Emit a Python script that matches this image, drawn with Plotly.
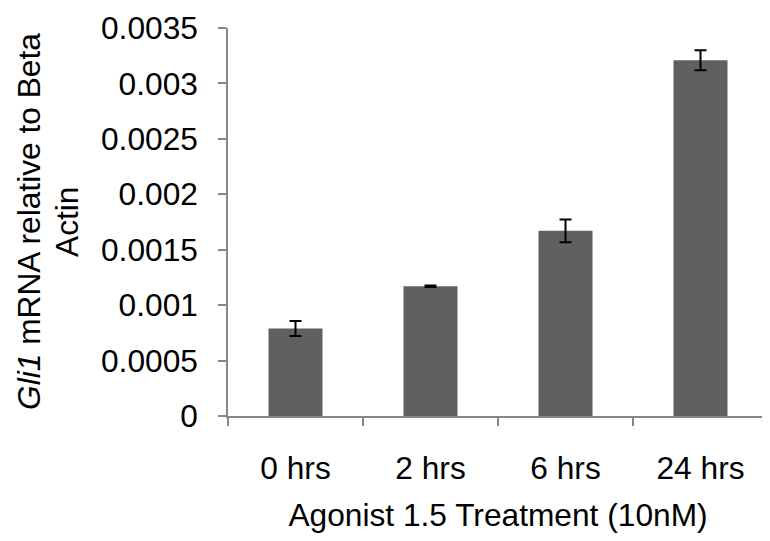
import plotly.graph_objects as go

categories = ["0 hrs", "2 hrs", "6 hrs", "24 hrs"]
values = [0.00079, 0.00117, 0.00167, 0.00321]
errors = [0.000068, 0.000007, 0.000102, 0.00009]
y_ticks = [0, 0.0005, 0.001, 0.0015, 0.002, 0.0025, 0.003, 0.0035]
y_tick_labels = ["0", "0.0005", "0.001", "0.0015", "0.002", "0.0025", "0.003", "0.0035"]
y_title_lines = ["<i>Gli1</i> mRNA relative to Beta", "Actin"]
x_title = "Agonist 1.5 Treatment (10nM)"

FONT = "Liberation Sans, Arial, sans-serif"
AXIS_COLOR = "#878787"
FS = 31.7

fig = go.Figure(
    go.Bar(
        x=categories,
        y=values,
        width=0.4,
        marker=dict(color="#606060", line=dict(width=0)),
        error_y=dict(type="data", array=errors, visible=True,
                     color="black", thickness=2, width=6),
    )
)

# page body has an 8px margin, so the figure is 8px smaller and margins are offset
fig.update_layout(
    width=762, height=533,
    margin=dict(l=220, r=2, t=20, b=125),
    paper_bgcolor="white", plot_bgcolor="white",
    font=dict(family=FONT, size=FS, color="black"),
    showlegend=False,
    xaxis=dict(
        showline=True, linecolor=AXIS_COLOR, linewidth=1.5,
        ticks="outside", ticklen=8, tickcolor=AXIS_COLOR, tickwidth=1.5,
        tickson="boundaries", showgrid=False,
        tickfont=dict(size=FS), ticklabelstandoff=23,
        title=dict(text=x_title, font=dict(size=FS), standoff=19),
    ),
    yaxis=dict(
        range=[0, 0.0035],
        showline=True, linecolor=AXIS_COLOR, linewidth=1.5,
        ticks="outside", ticklen=8, tickcolor=AXIS_COLOR, tickwidth=1.5,
        tickvals=y_ticks, ticktext=y_tick_labels,
        showgrid=False, zeroline=False,
        tickfont=dict(size=FS), ticklabelstandoff=14,
    ),
)

for txt, shift in zip(y_title_lines, [-199, -161]):
    fig.add_annotation(
        text=txt, textangle=-90, showarrow=False,
        xref="paper", yref="paper", x=0, y=0.5,
        xanchor="center", yanchor="middle", xshift=shift,
        font=dict(family=FONT, size=FS, color="black"),
    )

fig.write_html("out.html")
